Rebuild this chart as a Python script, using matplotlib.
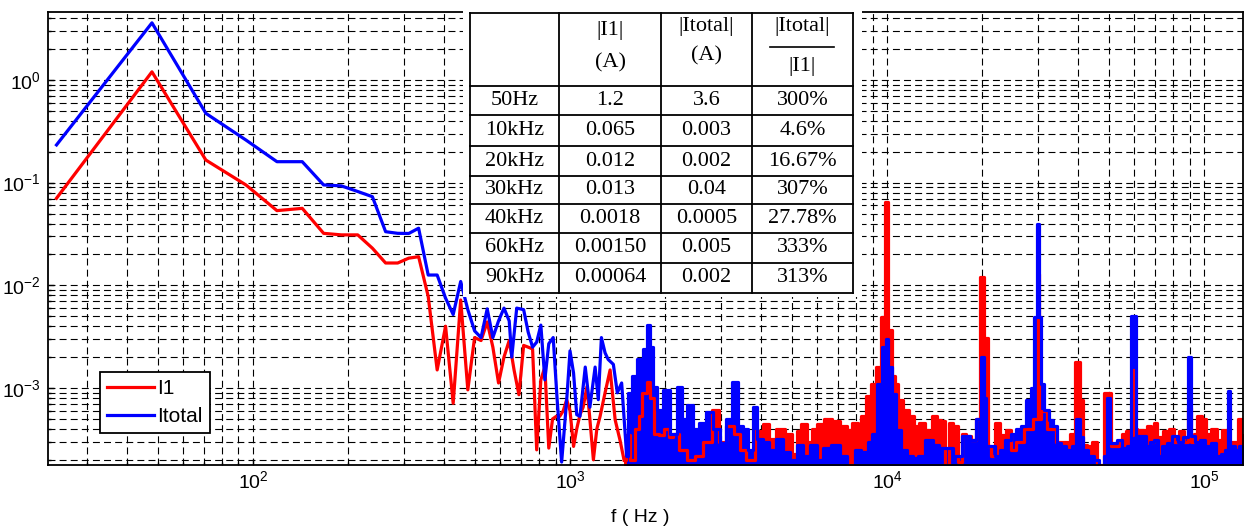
import matplotlib
matplotlib.use("Agg")
import matplotlib.pyplot as plt
from matplotlib.patches import Rectangle

plt.rcParams['font.family'] = ['Liberation Sans', 'DejaVu Sans']
plt.rcParams['lines.scale_dashes'] = False

# ---------------------------------------------------------------- table data
row_labels = ["50Hz", "10kHz", "20kHz", "30kHz", "40kHz", "60kHz", "90kHz"]
i1_amp_txt = ["1.2", "0.065", "0.012", "0.013", "0.0018", "0.00150", "0.00064"]
itot_amp_txt = ["3.6", "0.003", "0.002", "0.04", "0.0005", "0.005", "0.002"]
ratio_txt = ["300%", "4.6%", "16.67%", "307%", "27.78%", "333%", "313%"]

# ------------------------------------------------- spectrum |I1|  (f [Hz], A)
i1_low = [
    (24, 0.0705), (48, 1.2), (71, 0.166), (95, 0.095), (119, 0.0534),
    (143, 0.0562), (167, 0.0321), (190, 0.031), (214, 0.031), (238, 0.023),
    (262, 0.0165), (286, 0.0165), (310, 0.0184), (333, 0.019), (357, 0.0078),
    (381, 0.0015), (405, 0.0040), (428, 0.00071), (452, 0.0072), (476, 0.00096),
    (500, 0.0031), (524, 0.0029), (548, 0.0044), (571, 0.0025), (595, 0.00112),
    (619, 0.002), (643, 0.0029), (666, 0.0015), (690, 0.00086), (714, 0.0026),
    (738, 0.0025), (762, 0.0024), (785, 0.00025), (809, 0.0012), (833, 0.0016),
    (857, 0.00026), (881, 0.0005), (905, 0.00053), (928, 0.00053), (952, 0.0006),
    (976, 0.00077), (1000, 0.0006), (1026, 0.00027), (1050, 0.0004), (1075, 0.00055),
    (1100, 0.00065), (1131, 0.00103), (1155, 0.0005), (1185, 0.0002), (1215, 0.0004),
    (1244, 0.00053), (1290, 0.0009), (1338, 0.0015), (1388, 0.00049), (1438, 0.00031),
]
i1_high = [
    (1480, 0.0002), (1520, 0.00035), (1580, 0.0002), (1630, 0.0004), (1663, 0.00053),
    (1720, 0.0009), (1767, 0.00115), (1805, 0.0008), (1877, 0.00036),
    (1950, 0.00035), (2014, 0.0004), (2080, 0.00033), (2150, 0.00036), (2278, 0.00025),
    (2400, 0.0002), (2550, 0.00022), (2700, 0.0003), (2890, 0.00061), (3000, 0.0003),
    (3213, 0.00043), (3350, 0.00036), (3500, 0.00025), (3700, 0.0002), (3974, 0.00038),
    (4150, 0.00045), (4350, 0.00032), (4600, 0.0004), (4900, 0.00036), (5144, 0.00023),
    (5250, 0.00038), (5460, 0.00045), (5700, 0.0003), (5900, 0.0004), (6145, 0.00045),
    (6540, 0.0005), (6900, 0.00048), (7300, 0.00043), (7600, 0.00039), (7955, 0.00046),
    (8200, 0.0003), (8410, 0.00053), (8735, 0.00083), (9060, 0.0011), (9390, 0.0016),
    (9700, 0.0049), (10000, 0.065), (10200, 0.0037), (10460, 0.0013), (10700, 0.0011),
    (10985, 0.00077), (11550, 0.00061), (11955, 0.00053), (12380, 0.00043), (12900, 0.00046),
    (13400, 0.00039), (13650, 0.00036), (14120, 0.00053), (14600, 0.00049), (15000, 0.00048),
    (15550, 0.00018), (15900, 0.00046), (16400, 0.00043), (17000, 0.00019), (17420, 0.00036),
    (18000, 0.00034), (18800, 0.00031), (19400, 0.0005), (20000, 0.012), (20500, 0.0031),
    (21000, 0.00027), (21600, 0.00022), (22270, 0.00046), (23200, 0.00035), (24230, 0.00039),
    (25000, 0.00025), (26000, 0.0003), (28000, 0.0004), (29700, 0.0005), (30000, 0.013),
    (30300, 0.0005), (31000, 0.0006), (33000, 0.0004), (35000, 0.0003), (37000, 0.0003),
    (38500, 0.00036), (40000, 0.0018), (41000, 0.00077), (42000, 0.00028), (43500, 0.00027),
    (45000, 0.0003), (47000, 0.00018), (50000, 0.0009), (51500, 0.00027), (53000, 0.00027),
    (54500, 0.0003), (55700, 0.00036), (57500, 0.00038), (59000, 0.00035), (60000, 0.0015),
    (61000, 0.0004), (62000, 0.00039), (64500, 0.00039), (67500, 0.00043), (69000, 0.0003),
    (70000, 0.00046), (72500, 0.00033), (76000, 0.00038), (79000, 0.0004), (82000, 0.0003),
    (84600, 0.00038), (88000, 0.0003), (90000, 0.00064), (92000, 0.0003), (93500, 0.00036),
    (97000, 0.00053), (100000, 0.0005), (103000, 0.00036), (107000, 0.0004), (112000, 0.00031),
    (116000, 0.00039), (120000, 0.0003), (123000, 0.0003), (126000, 0.0003), (130000, 0.0005),
    (134000, 0.00036),
]

# --------------------------------------------- spectrum |Itotal|  (f [Hz], A)
itot_low = [
    (24, 0.233), (48, 3.6), (71, 0.473), (95, 0.26), (119, 0.16),
    (143, 0.16), (167, 0.095), (190, 0.093), (214, 0.082), (238, 0.073),
    (262, 0.0333), (286, 0.0321), (310, 0.032), (333, 0.036), (357, 0.0126),
    (381, 0.0126), (405, 0.0075), (428, 0.0052), (452, 0.0109), (476, 0.0058),
    (500, 0.0036), (524, 0.0031), (548, 0.0059), (571, 0.0031), (595, 0.0045),
    (619, 0.006), (643, 0.0045), (655, 0.002), (679, 0.006), (714, 0.0058),
    (738, 0.0035), (762, 0.0025), (785, 0.0028), (809, 0.0041), (833, 0.0012),
    (857, 0.0027), (885, 0.0031), (910, 0.0008), (941, 0.00019), (978, 0.00083),
    (1000, 0.0023), (1026, 0.0014), (1050, 0.00055), (1075, 0.00053), (1117, 0.0016),
    (1155, 0.00065), (1200, 0.0016), (1228, 0.00077), (1256, 0.0031), (1290, 0.0022),
    (1319, 0.0019), (1370, 0.0017), (1410, 0.0009), (1455, 0.00112),
]
itot_high = [
    (1509, 0.00022), (1545, 0.00089), (1600, 0.0013), (1663, 0.0019), (1724, 0.0024),
    (1767, 0.0041), (1805, 0.0025), (1852, 0.00103),
    (1923, 0.00061), (2014, 0.00096), (2112, 0.00036), (2223, 0.00103), (2300, 0.0005),
    (2387, 0.00068), (2500, 0.0004), (2620, 0.00046), (2752, 0.00058), (2900, 0.0004),
    (3036, 0.00029), (3180, 0.0005), (3329, 0.00115), (3437, 0.00043), (3600, 0.0004),
    (3700, 0.00025), (3830, 0.00065), (3950, 0.00032), (4150, 0.0003), (4350, 0.00025),
    (4595, 0.00032), (4800, 0.00024), (5068, 0.0002), (5314, 0.00028), (5550, 0.00022),
    (5867, 0.00028), (6150, 0.0002), (6400, 0.00026), (6940, 0.00028), (7300, 0.00022),
    (7700, 0.00017), (8100, 0.00025), (8500, 0.00024), (8886, 0.0003), (9100, 0.00036),
    (9500, 0.0011), (9842, 0.0025), (10000, 0.003), (10210, 0.0016), (10460, 0.00088),
    (10850, 0.00039), (11256, 0.00025), (11800, 0.00022), (12300, 0.00021), (12702, 0.00022),
    (13650, 0.00031), (14200, 0.00028), (14900, 0.00026), (15700, 0.00026), (16700, 0.00022),
    (17820, 0.00034), (18800, 0.00031), (19500, 0.0005), (20000, 0.002), (20400, 0.0008),
    (20650, 0.00027), (21500, 0.00027), (22300, 0.00022), (23200, 0.00025), (23970, 0.00031),
    (25170, 0.00036), (25760, 0.0004), (26990, 0.00043), (28050, 0.00077), (28780, 0.001),
    (29500, 0.0049), (30000, 0.04), (30400, 0.0049), (30970, 0.0011), (31760, 0.00061),
    (32980, 0.00049), (33790, 0.00043), (34770, 0.00029), (36000, 0.00027), (37500, 0.00025),
    (39000, 0.00027), (40000, 0.0005), (41000, 0.00033), (42000, 0.00025), (44000, 0.00022),
    (46000, 0.0002), (47500, 0.00017), (49000, 0.00022), (50000, 0.0008), (51000, 0.00029),
    (52200, 0.00029), (54000, 0.00031), (56000, 0.00026), (58000, 0.00027), (60000, 0.005),
    (62000, 0.00034), (64500, 0.00034), (66500, 0.00027), (68500, 0.0003), (70500, 0.00031),
    (72500, 0.00022), (75000, 0.00027), (78000, 0.00029), (81000, 0.00034), (84500, 0.0003),
    (87500, 0.00033), (90000, 0.002), (92000, 0.00034), (95000, 0.0003), (99000, 0.00031),
    (103000, 0.00027), (107000, 0.00029), (111000, 0.00022), (115000, 0.00023), (118500, 0.00025),
    (120000, 0.00093), (121500, 0.00027), (123000, 0.00027), (127000, 0.00025), (131000, 0.00027),
    (134000, 0.00027),
]

# ------------------------------------------------------------------ figure
W, H = 1245, 526
fig = plt.figure(figsize=(W / 100, H / 100), dpi=100)
ax = fig.add_axes([48 / W, 1 - 465 / H, (1243 - 48) / W, (465 - 12) / H])
ax.set_xscale('log')
ax.set_yscale('log')
ax.set_xlim(22.56, 132700)
ax.set_ylim(1.78e-4, 4.59)


def draw_spectrum(low, high, color, label):
    fl = [p[0] for p in low]
    vl = [p[1] for p in low]
    fh = [p[0] for p in high]
    vh = [p[1] for p in high]
    # resolved low-frequency part as a plain trace
    ax.plot(fl + [fh[0]], vl + [vh[0]], color=color, lw=2.3, label=label)
    # densely packed high-frequency part: blocky filled trace
    ax.fill_between(fh, vh, 1e-6, step='mid', color=color, lw=0)
    ax.step(fh, vh, where='mid', color=color, lw=2.3)


draw_spectrum(i1_low, i1_high, '#ff0000', 'I1')
draw_spectrum(itot_low, itot_high, '#0000ff', 'Itotal')

ax.grid(True, which='both', color='k', lw=0.8, ls=(0, (5, 3)))
ax.set_axisbelow(True)
ax.tick_params(which='both', direction='in', labelsize=14, width=1)
ax.tick_params(which='major', length=4)
ax.tick_params(which='minor', length=2)
ax.tick_params(axis='x', pad=4)
ax.tick_params(axis='y', pad=5)
for sp in ax.spines.values():
    sp.set_linewidth(1.3)

fig.text(640 / W, 1 - 518 / H, 'f ( Hz )', ha='center', va='center', fontsize=14)

leg = ax.legend(loc='upper left', bbox_to_anchor=(0.0435, 0.2053), borderaxespad=0,
                fontsize=15, handlelength=2.26, handletextpad=0.15, labelspacing=0.44,
                borderpad=0.34, fancybox=False, framealpha=1, edgecolor='k')
leg.get_frame().set_linewidth(1.3)

# ------------------------------------------------------------------ table
tax = fig.add_axes([463 / W, 1 - 297 / H, 399 / W, 297 / H])
tax.set_xlim(463, 862)
tax.set_ylim(297, 0)
tax.axis('off')
tax.add_patch(Rectangle((463, 0), 399, 297, fc='white', ec='none', zorder=0))

col_x = [470, 559, 661, 752, 853]
row_y = [13, 86, 115, 146, 176, 204, 233, 263, 293]
for x in col_x:
    tax.plot([x, x], [row_y[0], row_y[-1]], color='k', lw=1.3, solid_capstyle='projecting')
for y in row_y:
    tax.plot([col_x[0], col_x[-1]], [y, y], color='k', lw=1.3, solid_capstyle='projecting')

serif = dict(family=['Liberation Serif', 'DejaVu Serif'], fontsize=16,
             ha='center', va='center')
cx = [(col_x[i] + col_x[i + 1]) / 2 for i in range(4)]
tax.text(cx[1], 30, '|I1|', **serif)
tax.text(cx[1], 63, '(A)', **serif)
tax.text(cx[2], 26, '|Itotal|', **serif)
tax.text(cx[2], 56, '(A)', **serif)
tax.text(cx[3], 27, '|Itotal|', **serif)
tax.plot([770, 834], [47, 47], color='k', lw=1.2)
tax.text(cx[3], 66, '|I1|', **serif)

for r in range(len(row_labels)):
    yc = (row_y[r + 1] + row_y[r + 2]) / 2
    cells = [row_labels[r], i1_amp_txt[r], itot_amp_txt[r], ratio_txt[r]]
    for c, s in enumerate(cells):
        tax.text(cx[c], yc, s, **serif)

fig.savefig('out.png', dpi=100)
